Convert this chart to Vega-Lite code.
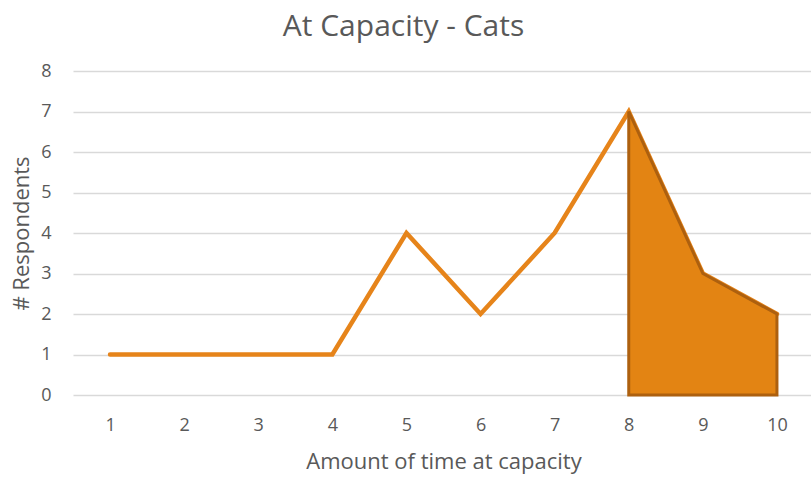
{
  "$schema": "https://vega.github.io/schema/vega-lite/v6.json",
  "autosize": {"type": "none"},
  "padding": {"left": 73, "top": 71, "right": 0, "bottom": 84},
  "width": 741,
  "height": 324,
  "background": "white",
  "title": {
    "text": "At Capacity - Cats",
    "fontSize": 30,
    "font": "Open Sans",
    "fontWeight": "normal",
    "color": "#595959",
    "anchor": "middle",
    "frame": "group",
    "dx": -40,
    "offset": 20
  },
  "datasets": {
    "line": [
      {"time": 1, "respondents": 1},
      {"time": 2, "respondents": 1},
      {"time": 3, "respondents": 1},
      {"time": 4, "respondents": 1},
      {"time": 5, "respondents": 4},
      {"time": 6, "respondents": 2},
      {"time": 7, "respondents": 4},
      {"time": 8, "respondents": 7},
      {"time": 9, "respondents": 3},
      {"time": 10, "respondents": 2}
    ],
    "shade": [
      {"time": 8, "respondents": 7},
      {"time": 9, "respondents": 3},
      {"time": 10, "respondents": 2}
    ]
  },
  "config": {
    "view": {"stroke": null},
    "axis": {
      "labelFont": "Open Sans",
      "titleFont": "Open Sans",
      "labelColor": "#595959",
      "titleColor": "#595959",
      "labelFontSize": 18,
      "titleFontSize": 22,
      "titleFontWeight": "normal",
      "domain": false,
      "ticks": false,
      "gridColor": "#d9d9d9",
      "gridWidth": 1.3
    }
  },
  "layer": [
    {
      "data": {"name": "line"},
      "mark": {"type": "line", "color": "#E6841A", "strokeWidth": 4.5, "strokeCap": "round", "strokeJoin": "miter"},
      "encoding": {
        "x": {
          "field": "time", "type": "quantitative",
          "scale": {"domain": [0.5, 10.5], "nice": false, "zero": false},
          "axis": {"values": [1,2,3,4,5,6,7,8,9,10], "grid": false, "title": "Amount of time at capacity", "labelPadding": 21, "titlePadding": 17, "format": "d"}
        },
        "y": {
          "field": "respondents", "type": "quantitative",
          "scale": {"domain": [0, 8], "nice": false},
          "axis": {"values": [0,1,2,3,4,5,6,7,8], "title": "# Respondents", "labelPadding": 22, "titlePadding": 7}
        }
      }
    },
    {
      "data": {"name": "shade"},
      "mark": {"type": "area", "color": "#E38413", "opacity": 1, "stroke": "#AD600F", "strokeWidth": 3, "strokeJoin": "miter"},
      "encoding": {
        "x": {"field": "time", "type": "quantitative"},
        "y": {"field": "respondents", "type": "quantitative"},
        "y2": {"datum": 0}
      }
    }
  ]
}
